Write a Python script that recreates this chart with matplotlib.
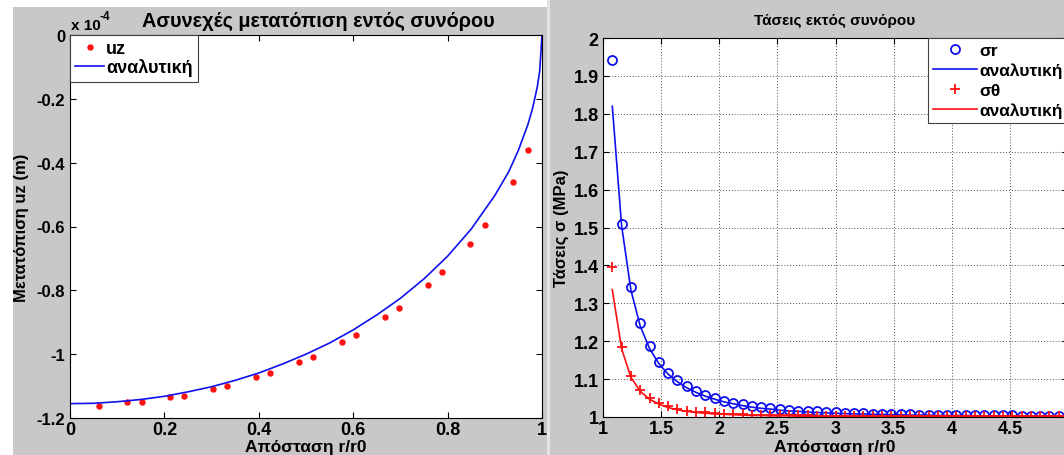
import matplotlib
matplotlib.use("Agg")
import matplotlib.pyplot as plt
from matplotlib.patches import Rectangle

plt.rcParams['font.family'] = ['Liberation Sans', 'DejaVu Sans']

# ---------------- data: left panel (units of 1e-4 m) ----------------
uz_r = [0.0606, 0.1212, 0.1515, 0.2121, 0.2424, 0.3030, 0.3333, 0.3939, 0.4242,
        0.4848, 0.5152, 0.5758, 0.6061, 0.6667, 0.6970, 0.7576, 0.7879, 0.8485,
        0.8788, 0.9394, 0.9697]
uz_val = [-1.163, -1.151, -1.149, -1.133, -1.131, -1.110, -1.100, -1.070, -1.060,
          -1.023, -1.008, -0.963, -0.940, -0.884, -0.854, -0.784, -0.744, -0.654,
          -0.595, -0.462, -0.361]
an_r = [0.0, 0.05, 0.1, 0.15, 0.2, 0.25, 0.3, 0.35, 0.4, 0.45, 0.5, 0.55, 0.6,
        0.65, 0.7, 0.75, 0.8, 0.85, 0.9, 0.93, 0.95, 0.97, 0.98, 0.99, 0.995, 1.0]
an_val = [-1.155, -1.154, -1.149, -1.142, -1.132, -1.118, -1.102, -1.082, -1.059,
          -1.031, -1.000, -0.965, -0.924, -0.877, -0.825, -0.764, -0.693, -0.608,
          -0.503, -0.427, -0.361, -0.281, -0.230, -0.163, -0.115, 0.0]

# ---------------- data: right panel (MPa) ----------------
r_pts = [1.08, 1.16, 1.24, 1.32, 1.40, 1.48, 1.56, 1.64, 1.72, 1.80, 1.88, 1.96,
         2.04, 2.12, 2.20, 2.28, 2.36, 2.44, 2.52, 2.60, 2.68, 2.76, 2.84, 2.92,
         3.00, 3.08, 3.16, 3.24, 3.32, 3.40, 3.48, 3.56, 3.64, 3.72, 3.80, 3.88,
         3.96, 4.04, 4.12, 4.20, 4.28, 4.36, 4.44, 4.52, 4.60, 4.68, 4.76, 4.84,
         4.92, 5.00]
sr_num = [1.942, 1.510, 1.342, 1.247, 1.187, 1.146, 1.117, 1.098, 1.081, 1.069,
          1.058, 1.050, 1.043, 1.037, 1.033, 1.028, 1.026, 1.024, 1.021, 1.019,
          1.017, 1.016, 1.015, 1.013, 1.012, 1.011, 1.010, 1.010, 1.009, 1.008,
          1.008, 1.007, 1.007, 1.006, 1.006, 1.006, 1.005, 1.005, 1.005, 1.004,
          1.004, 1.004, 1.004, 1.004, 1.003, 1.003, 1.003, 1.003, 1.003, 1.003]
sr_an = [1.820, 1.505, 1.335, 1.240, 1.181, 1.141, 1.113, 1.093, 1.077, 1.065,
         1.055, 1.047, 1.040, 1.035, 1.030, 1.026, 1.023, 1.021, 1.018, 1.016,
         1.015, 1.013, 1.012, 1.011, 1.010, 1.009, 1.008, 1.008, 1.007, 1.007,
         1.006, 1.006, 1.005, 1.005, 1.005, 1.004, 1.004, 1.004, 1.004, 1.003,
         1.003, 1.003, 1.003, 1.003, 1.002, 1.002, 1.002, 1.002, 1.002, 1.002]
st_num = [1.396, 1.185, 1.108, 1.072, 1.050, 1.036, 1.028, 1.020, 1.017, 1.014,
          1.012, 1.010, 1.009, 1.008, 1.007, 1.006, 1.006, 1.005, 1.005, 1.004,
          1.004, 1.004, 1.003, 1.003, 1.003, 1.003, 1.003, 1.002, 1.002, 1.002,
          1.002, 1.002, 1.002, 1.002, 1.002, 1.002, 1.002, 1.002, 1.002, 1.002,
          1.002, 1.002, 1.002, 1.002, 1.002, 1.002, 1.002, 1.002, 1.002, 1.002]
st_an = [1.336, 1.180, 1.105, 1.068, 1.047, 1.034, 1.025, 1.019, 1.015, 1.012,
         1.010, 1.008, 1.007, 1.006, 1.005, 1.004, 1.004, 1.003, 1.003, 1.003,
         1.002, 1.002, 1.002, 1.002, 1.002, 1.001, 1.001, 1.001, 1.001, 1.001,
         1.001, 1.001, 1.001, 1.001, 1.001, 1.001, 1.001, 1.001, 1.001, 1.001,
         1.001, 1.001, 1.001, 1.001, 1.001, 1.001, 1.001, 1.001, 1.001, 1.001]

left_xticks = [0, 0.2, 0.4, 0.6, 0.8, 1]
left_xlabels = ['0', '0.2', '0.4', '0.6', '0.8', '1']
left_yticks = [0, -0.2, -0.4, -0.6, -0.8, -1, -1.2]
left_ylabels = ['0', '-0.2', '-0.4', '-0.6', '-0.8', '-1', '-1.2']
right_xticks = [1, 1.5, 2, 2.5, 3, 3.5, 4, 4.5, 5]
right_xlabels = ['1', '1.5', '2', '2.5', '3', '3.5', '4', '4.5', '']
right_yticks = [1, 1.1, 1.2, 1.3, 1.4, 1.5, 1.6, 1.7, 1.8, 1.9, 2]
right_ylabels = ['1', '1.1', '1.2', '1.3', '1.4', '1.5', '1.6', '1.7', '1.8', '1.9', '2']

# ---------------- figure ----------------
W, H = 1064, 456
fig = plt.figure(figsize=(W / 100, H / 100), dpi=100)
GRAY = '#c8c8c8'
fig.patch.set_facecolor(GRAY)

def fx(px):
    return px / W

def fy(py):
    return 1 - py / H

# white margins of the left window, and separator strip
fig.patches.append(Rectangle((0, 0), fx(13), 1, transform=fig.transFigure,
                             facecolor='white', edgecolor='none', zorder=-5))
fig.patches.append(Rectangle((0, fy(8)), fx(547), 1 - fy(8), transform=fig.transFigure,
                             facecolor='white', edgecolor='none', zorder=-5))
fig.patches.append(Rectangle((fx(547), 0), fx(3), 1, transform=fig.transFigure,
                             facecolor='#e4e4e4', edgecolor='none', zorder=-5))

BLUE = '#1010ee'
RED = '#ff1010'

def style_axes(ax, xfs, yfs, ypad):
    ax.tick_params(direction='in', top=True, right=True, length=4, width=0.8)
    ax.tick_params(axis='x', pad=2, labelsize=xfs)
    ax.tick_params(axis='y', pad=ypad, labelsize=yfs)
    for lab in ax.get_xticklabels() + ax.get_yticklabels():
        lab.set_fontweight('bold')
    for s in ax.spines.values():
        s.set_linewidth(0.8)
        s.set_color('black')

# ---------------- left axes ----------------
axL = fig.add_axes([fx(70), fy(419), fx(542 - 70), fy(36) - fy(419)])
axL.plot(uz_r, uz_val, linestyle='none', marker='o', markersize=3.6,
         markerfacecolor=RED, markeredgecolor=RED, label='uz')
axL.plot(an_r, an_val, color=BLUE, linewidth=1.2, label='αναλυτική')
axL.set_xlim(0, 1)
axL.set_ylim(-1.2, 0)
axL.set_xticks(left_xticks)
axL.set_xticklabels(left_xlabels)
axL.set_yticks(left_yticks)
axL.set_yticklabels(left_ylabels)
style_axes(axL, 13, 12, 3.5)
leg = axL.legend(loc='upper left', borderaxespad=0, fancybox=False, framealpha=1,
                 edgecolor='#404040', prop={'weight': 'bold', 'size': 13},
                 handlelength=1.6, handletextpad=0.1, borderpad=0.3, labelspacing=0.05)
leg.get_frame().set_linewidth(0.8)

fig.text(fx(306), fy(448), 'Απόσταση r/r0', ha='center', va='center',
         fontsize=12.5, fontweight='bold')
fig.text(fx(22), fy(228), 'Μετατόπιση uz (m)', ha='center', va='center',
         rotation=90, fontsize=12, fontweight='bold')
fig.text(fx(318), fy(21), 'Ασυνεχές μετατόπιση εντός συνόρου', ha='center',
         va='center', fontsize=14.3, fontweight='bold')
fig.text(fx(71), fy(30), 'x 10', ha='left', va='baseline', fontsize=11,
         fontweight='bold')
fig.text(fx(99), fy(20), '-4', ha='left', va='baseline', fontsize=8.5,
         fontweight='bold')

# ---------------- right axes ----------------
axR = fig.add_axes([fx(603), fy(418), fx(1068 - 603), fy(39) - fy(418)])
axR.plot(r_pts, sr_num, linestyle='none', marker='o', markersize=6.5,
         markerfacecolor='none', markeredgecolor=BLUE, markeredgewidth=1.3,
         label='σr')
axR.plot(r_pts, sr_an, color=BLUE, linewidth=1.2, label='αναλυτική')
axR.plot(r_pts, st_num, linestyle='none', marker='+', markersize=7,
         markeredgecolor=RED, markeredgewidth=1.3, label='σθ')
axR.plot(r_pts, st_an, color=RED, linewidth=1.2, label='αναλυτική')
axR.set_xlim(1, 5)
axR.set_ylim(1, 2)
axR.set_xticks(right_xticks)
axR.set_xticklabels(right_xlabels)
axR.set_yticks(right_yticks)
axR.set_yticklabels(right_ylabels)
axR.grid(True, linestyle=(0, (1, 2)), color='#505050', linewidth=0.7)
axR.set_axisbelow(True)
style_axes(axR, 13, 13, 3)
legR = axR.legend(loc='upper right', borderaxespad=0, fancybox=False, framealpha=1,
                  edgecolor='#404040', prop={'weight': 'bold', 'size': 12.5},
                  handlelength=2.5, handletextpad=0.15, borderpad=0.3,
                  labelspacing=0.25)
legR.get_frame().set_linewidth(0.8)

fig.text(fx(835), fy(448), 'Απόσταση r/r0', ha='center', va='center',
         fontsize=12.5, fontweight='bold')
fig.text(fx(561), fy(228), 'Τάσεις σ (MPa)', ha='center', va='center',
         rotation=90, fontsize=12, fontweight='bold')
fig.text(fx(835), fy(21), 'Τάσεις εκτός συνόρου', ha='center', va='center',
         fontsize=11, fontweight='bold')

fig.savefig('out.png', dpi=100, facecolor=fig.get_facecolor())
